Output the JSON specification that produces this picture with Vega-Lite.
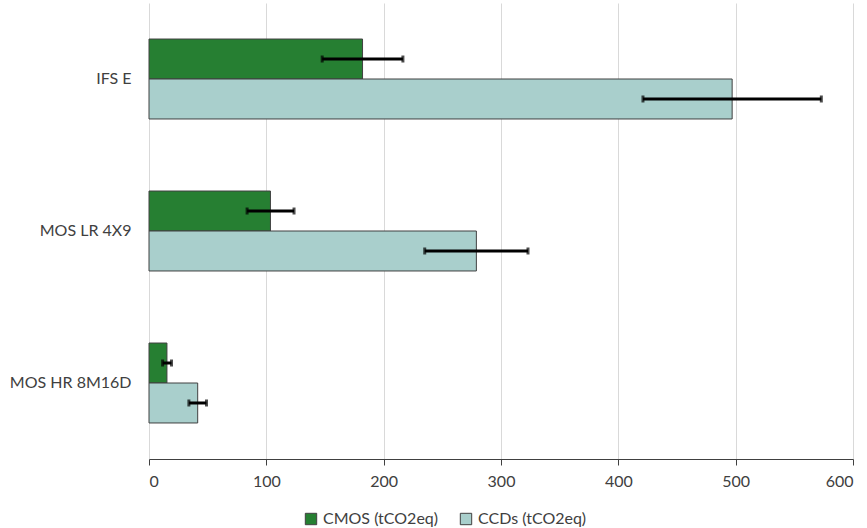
{
  "$schema": "https://vega.github.io/schema/vega-lite/v6.json",
  "autosize": {"type": "none"},
  "width": 704,
  "height": 456,
  "padding": {"left": 149, "top": 3, "right": 14, "bottom": 69},
  "background": "white",
  "config": {
    "view": {"stroke": null},
    "font": "Lato",
    "axis": {"labelFont": "Lato", "labelFontSize": 16, "labelColor": "#404040"},
    "legend": {"labelFont": "Lato", "labelFontSize": 16, "labelColor": "#404040"}
  },
  "data": {
    "values": [
      {"cat": "IFS E", "series": "CMOS (tCO2eq)", "value": 182, "lo": 147.6, "hi": 216.4},
      {"cat": "IFS E", "series": "CCDs (tCO2eq)", "value": 497, "lo": 421, "hi": 573},
      {"cat": "MOS LR 4X9", "series": "CMOS (tCO2eq)", "value": 103.5, "lo": 83.6, "hi": 123.6},
      {"cat": "MOS LR 4X9", "series": "CCDs (tCO2eq)", "value": 279, "lo": 235, "hi": 323},
      {"cat": "MOS HR 8M16D", "series": "CMOS (tCO2eq)", "value": 15.3, "lo": 11.6, "hi": 19.2},
      {"cat": "MOS HR 8M16D", "series": "CCDs (tCO2eq)", "value": 41.5, "lo": 34, "hi": 49}
    ]
  },
  "encoding": {
    "y": {
      "field": "cat", "type": "nominal",
      "sort": ["IFS E", "MOS LR 4X9", "MOS HR 8M16D"],
      "scale": {"paddingInner": 0.474, "paddingOuter": 0.237},
      "axis": {"title": null, "domain": false, "ticks": false, "labelPadding": 18}
    },
    "yOffset": {
      "field": "series", "type": "nominal",
      "sort": ["CMOS (tCO2eq)", "CCDs (tCO2eq)"],
      "scale": {"paddingInner": 0, "paddingOuter": 0}
    }
  },
  "layer": [
    {
      "mark": {"type": "bar", "stroke": "#404040", "strokeWidth": 1},
      "encoding": {
        "x": {
          "field": "value", "type": "quantitative",
          "scale": {"domain": [0, 600], "nice": false},
          "axis": {
            "title": null, "values": [0, 100, 200, 300, 400, 500, 600],
            "grid": true, "gridColor": "#d9d9d9", "gridWidth": 1,
            "domainColor": "#404040", "tickColor": "#404040", "tickSize": 6,
            "labelPadding": 8
          }
        },
        "color": {
          "field": "series", "type": "nominal",
          "sort": ["CMOS (tCO2eq)", "CCDs (tCO2eq)"],
          "scale": {"domain": ["CMOS (tCO2eq)", "CCDs (tCO2eq)"], "range": ["#267F32", "#A9CFCC"]},
          "legend": {
            "title": null, "orient": "none", "direction": "horizontal",
            "legendX": 154, "legendY": 508,
            "symbolType": "square", "symbolSize": 130, "symbolStrokeColor": "#404040", "symbolStrokeWidth": 1,
            "columnPadding": 20, "labelOffset": 4
          }
        }
      }
    },
    {
      "mark": {"type": "rule", "color": "black", "strokeWidth": 3},
      "encoding": {
        "x": {"field": "lo", "type": "quantitative"},
        "x2": {"field": "hi"}
      }
    },
    {
      "mark": {"type": "tick", "color": "black", "thickness": 3, "size": 7},
      "encoding": {"x": {"field": "lo", "type": "quantitative"}}
    },
    {
      "mark": {"type": "tick", "color": "black", "thickness": 3, "size": 7},
      "encoding": {"x": {"field": "hi", "type": "quantitative"}}
    }
  ]
}
